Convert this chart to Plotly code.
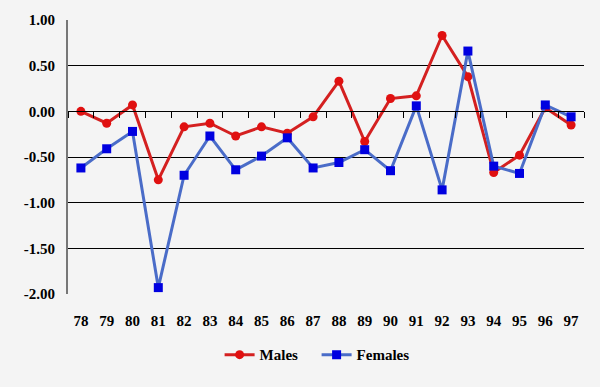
import plotly.graph_objects as go

years = ["78", "79", "80", "81", "82", "83", "84", "85", "86", "87",
         "88", "89", "90", "91", "92", "93", "94", "95", "96", "97"]
males = [0.00, -0.13, 0.07, -0.75, -0.17, -0.13, -0.27, -0.17, -0.24, -0.06,
         0.33, -0.33, 0.14, 0.17, 0.83, 0.38, -0.67, -0.48, 0.04, -0.15]
females = [-0.62, -0.41, -0.22, -1.93, -0.70, -0.27, -0.64, -0.49, -0.29, -0.62,
           -0.56, -0.42, -0.65, 0.06, -0.86, 0.66, -0.60, -0.68, 0.07, -0.06]
y_ticks = [1.0, 0.5, 0.0, -0.5, -1.0, -1.5, -2.0]

serif = "Liberation Serif"
bfont = dict(family=serif, size=15, color="black", weight="bold")
bg = "#f4f4f4"

fig = go.Figure()
fig.add_trace(go.Scatter(
    x=years, y=males, name="Males", mode="lines+markers",
    line=dict(color="#d42020", width=3),
    marker=dict(symbol="circle", size=9, color="#e01010"),
))
fig.add_trace(go.Scatter(
    x=years, y=females, name="Females", mode="lines+markers",
    line=dict(color="#4a6cc8", width=3),
    marker=dict(symbol="square", size=9, color="#0000e0"),
))
# invisible trace to drive the zero-line tick axis
fig.add_trace(go.Scatter(x=years, y=males, xaxis="x2", mode="none",
                         showlegend=False, hoverinfo="skip"))

fig.update_layout(
    width=600, height=387,
    margin=dict(l=68, r=16, t=20, b=93),
    paper_bgcolor=bg, plot_bgcolor=bg,
    font=dict(family=serif, size=14, color="black"),
    showlegend=True,
    legend=dict(orientation="h", xref="container", yref="container",
                x=0.366, xanchor="left", y=0.083, yanchor="middle",
                font=dict(family=serif, size=15, color="black", weight="bold"),
                bgcolor="rgba(0,0,0,0)", itemwidth=30,
                entrywidth=52, entrywidthmode="pixels"),
    xaxis=dict(type="category", showgrid=False, zeroline=False, showline=False,
               ticks="", tickfont=bfont, automargin=False,
               ticklabelstandoff=16, range=[-0.5, 19.5]),
    xaxis2=dict(type="category", overlaying="x", anchor="free", position=2/3,
                side="bottom", showgrid=False, zeroline=False, automargin=False,
                showline=True, linecolor="black", linewidth=1,
                ticks="outside", tickson="boundaries", ticklen=6, tickcolor="black",
                showticklabels=False, range=[-0.5, 19.5]),
    yaxis=dict(range=[-2.0, 1.0], tickvals=y_ticks,
               ticktext=[f"{v:.2f}" for v in y_ticks],
               showgrid=True, gridcolor="black", gridwidth=1, automargin=False,
               zeroline=False, showline=True, linecolor="#777777", linewidth=2,
               ticks="", ticklabelstandoff=8, tickfont=bfont),
)

fig.write_html("out.html", config={"displayModeBar": False},
               post_script="document.body.style.margin='0';")
